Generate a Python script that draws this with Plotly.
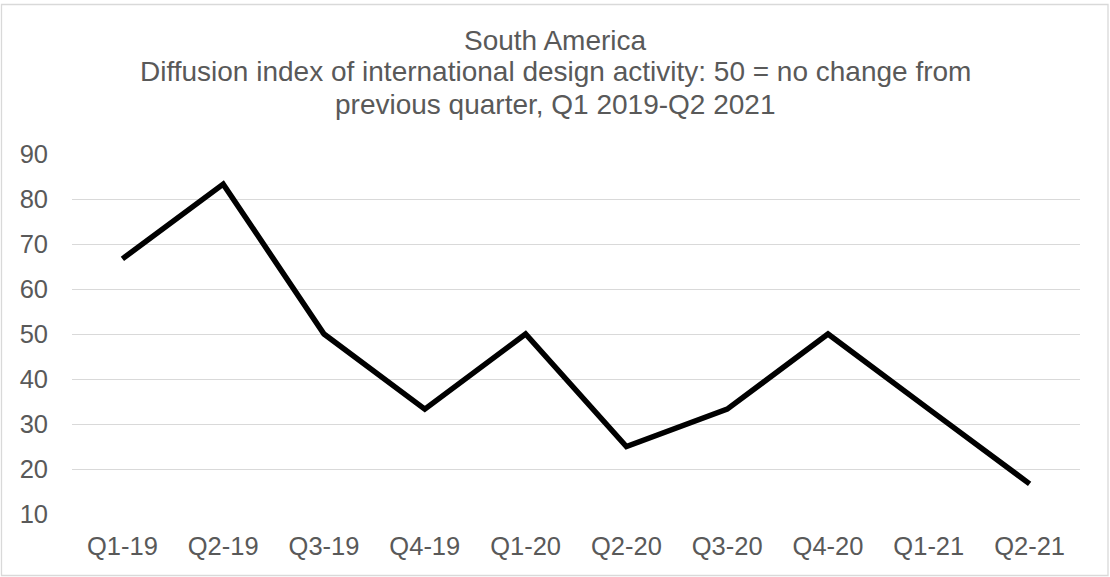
import plotly.graph_objects as go

quarters = ["Q1-19", "Q2-19", "Q3-19", "Q4-19", "Q1-20",
            "Q2-20", "Q3-20", "Q4-20", "Q1-21", "Q2-21"]
index_values = [66.7, 83.3, 50.0, 33.3, 50.0, 25.0, 33.3, 50.0, 33.3, 16.7]

title_lines = [
    "South America",
    "Diffusion index of international design activity: 50 = no change from",
    "previous quarter, Q1 2019-Q2 2021",
]

W, H = 1110, 577
L, R, T, B = 72, 30, 154, 63
PW, PH = W - L - R, H - T - B
FONT = "Liberation Sans, Arial, sans-serif"
GREY = "#595959"


def px(x):
    return (x - L) / PW


def py(y):
    return (H - B - y) / PH


fig = go.Figure()
fig.add_trace(go.Scatter(
    x=quarters, y=index_values, mode="lines",
    line=dict(color="black", width=5.5),
    showlegend=False, hoverinfo="x+y",
))

# title, one annotation per line so the spacing matches
for i, line in enumerate(title_lines):
    fig.add_annotation(
        text=line, xref="paper", yref="paper",
        x=px(W / 2), y=py(40 + 32 * i),
        xanchor="center", yanchor="middle", showarrow=False,
        font=dict(family=FONT, size=28, color=GREY),
    )

# chart area border
fig.add_shape(
    type="rect", xref="paper", yref="paper",
    x0=px(1.5), x1=px(1108), y0=py(575.5), y1=py(4.5),
    line=dict(color="#d9d9d9", width=1.3), layer="below",
)

fig.update_layout(
    width=W, height=H,
    margin=dict(l=L, r=R, t=T, b=B),
    paper_bgcolor="white", plot_bgcolor="white",
    font=dict(family=FONT, color=GREY),
    xaxis=dict(
        type="category", range=[-0.5, len(quarters) - 0.5],
        showgrid=False, showline=False, zeroline=False,
        tickfont=dict(size=25.5, color=GREY), ticklabelstandoff=14,
    ),
    yaxis=dict(
        range=[10, 90], dtick=10, tick0=10,
        showgrid=True, gridcolor="#d9d9d9", gridwidth=1.3,
        showline=False, zeroline=False,
        tickfont=dict(size=25.5, color=GREY), ticklabelstandoff=23,
    ),
)

# drop the browser's default body margin so the figure sits at the page origin
fig.write_html("out.html", config={"displayModeBar": False},
               post_script="document.body.style.margin='0';")
